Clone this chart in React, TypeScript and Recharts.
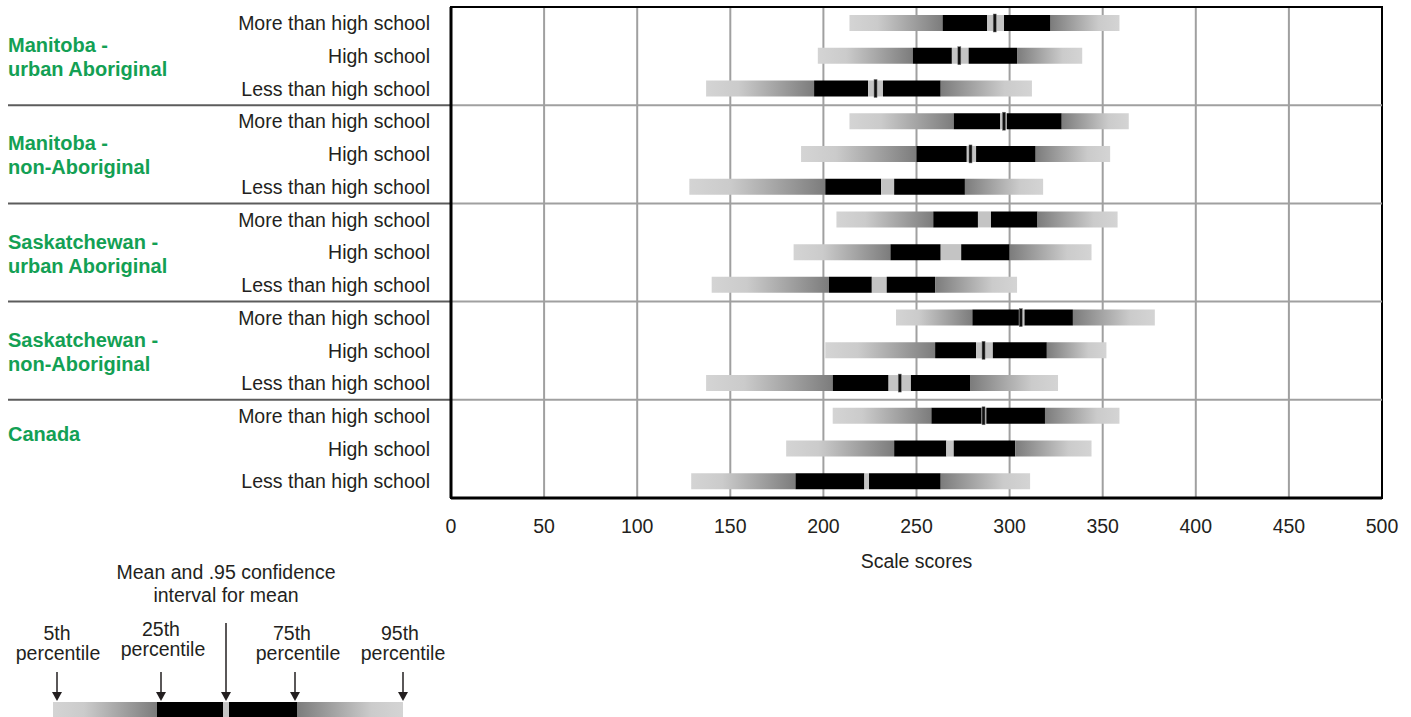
import { BarChart, Bar, XAxis, YAxis, CartesianGrid, ReferenceLine, ReferenceArea } from "recharts";

const groupNames = [
  ["Manitoba -", "urban Aboriginal"],
  ["Manitoba -", "non-Aboriginal"],
  ["Saskatchewan -", "urban Aboriginal"],
  ["Saskatchewan -", "non-Aboriginal"],
  ["Canada"],
];
const levels = ["More than high school", "High school", "Less than high school"];

// one value per row, top to bottom
const p5 = [214, 197, 137, 214, 188, 128, 207, 184, 140, 239, 201, 137, 205, 180, 129];
const p25 = [264, 248, 195, 270, 250, 201, 259, 236, 203, 280, 260, 205, 258, 238, 185];
const ciLow = [288, 269, 224, 295, 277, 231, 283, 263, 226, 305, 282, 235, 285, 266, 222];
const ciHigh = [297, 278, 232, 298.5, 282, 238, 290, 274, 234, 308, 291, 247, 287.5, 270, 224.5];
const p75 = [322, 304, 263, 328, 314, 276, 315, 300, 260, 334, 320, 279, 319, 303, 263];
const p95 = [359, 339, 312, 364, 354, 318, 358, 344, 304, 378, 352, 326, 359, 344, 311];
const mean = [292, 273, 228, 297, 279, null, null, null, null, 306, 286, 241, 286, null, null];

const xTicks = [0, 50, 100, 150, 200, 250, 300, 350, 400, 450, 500];

const rows = groupNames.flatMap((g, gi) =>
  levels.map((level, li) => {
    const i = gi * 3 + li;
    return {
      id: `r${i}`,
      group: gi,
      pos: li,
      level,
      base: p5[i],
      lowTail: p25[i] - p5[i],
      lowBox: ciLow[i] - p25[i],
      ci: ciHigh[i] - ciLow[i],
      highBox: p75[i] - ciHigh[i],
      highTail: p95[i] - p75[i],
      ciLow: ciLow[i],
      ciHigh: ciHigh[i],
      mean: mean[i],
    };
  })
);

const groupStarts = rows.filter((r) => r.pos === 0 && r.group > 0).map((r) => r.id);

const TEXT = "#231f20";
const GREEN = "#13a054";
const FONT = "'Liberation Sans', Arial, sans-serif";

function RowTick(props: any) {
  const { x, y, payload } = props;
  const row = rows.find((r) => r.id === payload.value);
  if (!row) return null;
  const name = groupNames[row.group];
  return (
    <g>
      <text x={x} y={y} dy="0.35em" textAnchor="end" fill={TEXT} fontSize={19.5}>
        {row.level}
      </text>
      {row.pos === 1 &&
        name.map((line, k) => (
          <text
            key={k}
            x={8}
            y={name.length > 1 ? y - 11 + k * 24 : y - 15}
            dy="0.35em"
            fill={GREEN}
            fontSize={20}
            fontWeight="bold"
          >
            {line}
          </text>
        ))}
    </g>
  );
}

function CiShape(props: any) {
  const { x, y, width, height, payload } = props;
  if (width == null || height == null) return null;
  const m = payload?.mean;
  const mx =
    m != null ? x + ((m - payload.ciLow) / (payload.ciHigh - payload.ciLow)) * width : null;
  return (
    <g>
      <rect x={x} y={y} width={width} height={height} fill="#c4c4c4" />
      {mx != null && (
        <rect x={mx - 1.5} y={y - 1} width={3} height={height + 2} fill="#111" stroke="#777" strokeWidth={0.5} />
      )}
    </g>
  );
}

function GroupRule(props: any) {
  const { x1, x2, y1 } = props;
  return (
    <g>
      <line x1={8} x2={x1} y1={y1} y2={y1} stroke="#5c5c5c" strokeWidth={2} />
      <line x1={x1} x2={x2} y1={y1} y2={y1} stroke="#a0a0a0" strokeWidth={2} />
    </g>
  );
}

function KeyDiagram() {
  const arrows = [
    { x: 57, top: 672 },
    { x: 161, top: 672 },
    { x: 226, top: 623 },
    { x: 295, top: 672 },
    { x: 403, top: 672 },
  ];
  const labels = [
    { x: 57, y: 633, t: "5th" },
    { x: 58, y: 653, t: "percentile" },
    { x: 161, y: 629.5, t: "25th" },
    { x: 163, y: 649.5, t: "percentile" },
    { x: 292, y: 633, t: "75th" },
    { x: 298, y: 653, t: "percentile" },
    { x: 400, y: 633, t: "95th" },
    { x: 403, y: 653, t: "percentile" },
    { x: 226, y: 572.5, t: "Mean and .95 confidence" },
    { x: 226, y: 595, t: "interval for mean" },
  ];
  return (
    <svg width={460} height={717} style={{ position: "absolute", left: 0, top: 0 }}>
      <defs>
        <linearGradient id="keyL" x1="0" x2="1" y1="0" y2="0">
          <stop offset="0%" stopColor="#d4d4d4" />
          <stop offset="30%" stopColor="#cbcbcb" />
          <stop offset="100%" stopColor="#7c7c7c" />
        </linearGradient>
        <linearGradient id="keyR" x1="0" x2="1" y1="0" y2="0">
          <stop offset="0%" stopColor="#7c7c7c" />
          <stop offset="70%" stopColor="#cbcbcb" />
          <stop offset="100%" stopColor="#d4d4d4" />
        </linearGradient>
      </defs>
      {labels.map((l, i) => (
        <text key={i} x={l.x} y={l.y} dy="0.35em" textAnchor="middle" fill={TEXT} fontSize={19.5} fontFamily={FONT}>
          {l.t}
        </text>
      ))}
      {arrows.map((a, i) => (
        <g key={i}>
          <line x1={a.x} x2={a.x} y1={a.top} y2={695} stroke={TEXT} strokeWidth={1.5} />
          <polygon points={`${a.x - 5},${692} ${a.x + 5},${692} ${a.x},${701}`} fill={TEXT} />
        </g>
      ))}
      <rect x={53} y={702} width={104} height={16} fill="url(#keyL)" />
      <rect x={157} y={702} width={66} height={16} fill="#000" />
      <rect x={223} y={702} width={6} height={16} fill="#c4c4c4" />
      <rect x={229} y={702} width={68} height={16} fill="#000" />
      <rect x={297} y={702} width={106} height={16} fill="url(#keyR)" />
    </svg>
  );
}

export default function App() {
  return (
    <div style={{ position: "absolute", left: 0, top: 0, width: 1411, height: 717, fontFamily: FONT, background: "#fff" }}>
      <BarChart
        width={1400}
        height={580}
        data={rows}
        layout="vertical"
        margin={{ top: 7, right: 18, bottom: 10, left: 0 }}
        barCategoryGap={0}
      >
        <defs>
          <linearGradient id="tailL" x1="0" x2="1" y1="0" y2="0">
            <stop offset="0%" stopColor="#d4d4d4" />
            <stop offset="30%" stopColor="#cbcbcb" />
            <stop offset="100%" stopColor="#7c7c7c" />
          </linearGradient>
          <linearGradient id="tailR" x1="0" x2="1" y1="0" y2="0">
            <stop offset="0%" stopColor="#7c7c7c" />
            <stop offset="70%" stopColor="#cbcbcb" />
            <stop offset="100%" stopColor="#d4d4d4" />
          </linearGradient>
        </defs>
        <CartesianGrid horizontal={false} stroke="#a0a0a0" strokeWidth={2} />
        <ReferenceArea x1={0} x2={500} fill="none" stroke="#000" strokeWidth={2} />
        <XAxis
          type="number"
          domain={[0, 500]}
          ticks={xTicks}
          interval={0}
          tickLine={false}
          tickSize={0}
          tickMargin={21}
          axisLine={{ stroke: "#000", strokeWidth: 3 }}
          tick={{ fill: TEXT, fontSize: 19.5 }}
          height={72}
          label={{ value: "Scale scores", position: "insideBottom", offset: 2, fill: TEXT, fontSize: 19.5 }}
        />
        <YAxis
          type="category"
          dataKey="id"
          width={451}
          interval={0}
          tickLine={false}
          tickSize={0}
          tickMargin={21}
          axisLine={{ stroke: "#000", strokeWidth: 3 }}
          tick={<RowTick />}
        />
        {groupStarts.map((id) => (
          <ReferenceLine key={id} y={id} position="start" shape={GroupRule} />
        ))}
        <Bar dataKey="base" stackId="s" fill="transparent" barSize={16} isAnimationActive={false} />
        <Bar dataKey="lowTail" stackId="s" fill="url(#tailL)" barSize={16} isAnimationActive={false} />
        <Bar dataKey="lowBox" stackId="s" fill="#000" barSize={16} isAnimationActive={false} />
        <Bar dataKey="ci" stackId="s" shape={CiShape} barSize={16} isAnimationActive={false} />
        <Bar dataKey="highBox" stackId="s" fill="#000" barSize={16} isAnimationActive={false} />
        <Bar dataKey="highTail" stackId="s" fill="url(#tailR)" barSize={16} isAnimationActive={false} />
      </BarChart>
      <KeyDiagram />
    </div>
  );
}
